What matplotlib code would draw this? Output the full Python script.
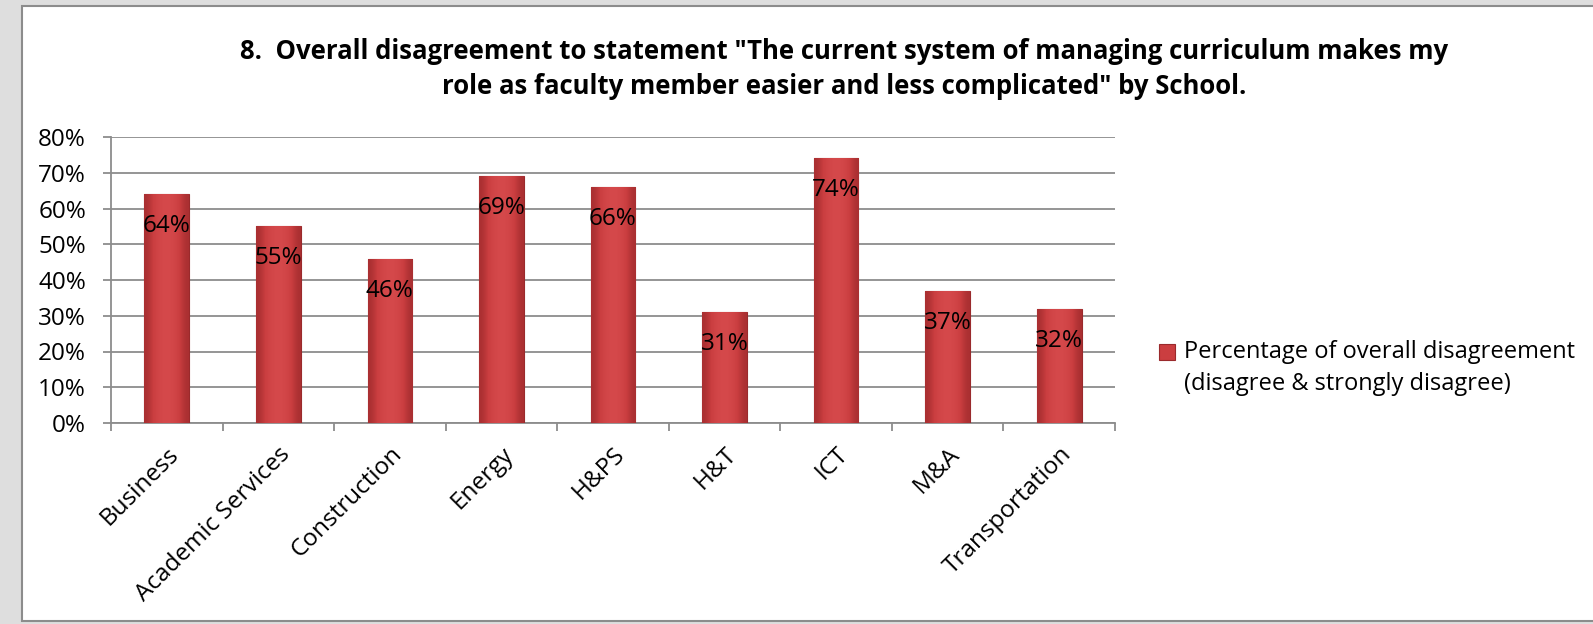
import numpy as np
import matplotlib.pyplot as plt
from matplotlib.patches import Rectangle
from matplotlib.colors import LinearSegmentedColormap

schools = ['Business', 'Academic Services', 'Construction', 'Energy', 'H&PS',
           'H&T', 'ICT', 'M&A', 'Transportation']
disagree = [64, 55, 46, 69, 66, 31, 74, 37, 32]
yticks = [0, 10, 20, 30, 40, 50, 60, 70, 80]
legend_label = 'Percentage of overall disagreement\n(disagree & strongly disagree)'
title = ('8.  Overall disagreement to statement "The current system of managing curriculum makes my\n'
         'role as faculty member easier and less complicated" by School.')

plt.rcParams['font.family'] = ['Open Sans', 'DejaVu Sans']

W, H = 1593, 624
fig = plt.figure(figsize=(W / 100, H / 100), dpi=100, facecolor='#dedede')

# white chart box
fig.patches.append(Rectangle((22 / W, 1 - 621 / H), 1.0, (621 - 6) / H,
                             transform=fig.transFigure, facecolor='white',
                             edgecolor='#8c8c8c', lw=1.5, zorder=-5))

ax = fig.add_axes([111 / W, 1 - 423 / H, (1115 - 111) / W, (423 - 137) / H])
ax.set_zorder(2)
ax.set_facecolor('none')

x = np.arange(len(schools))
bars = ax.bar(x, disagree, width=0.4, color='#cb3e40', edgecolor='#9a2a2c',
              linewidth=0.8, zorder=3)

# horizontal shading on each bar
grad = np.array([[0.0, 0.55, 0.85, 1.0, 0.85, 0.55, 0.0]])
cmap = LinearSegmentedColormap.from_list('bar', ['#a92f31', '#ca3e40', '#d64a4c'])
for b in bars:
    im = ax.imshow(grad, cmap=cmap, aspect='auto', zorder=3.5, interpolation='bicubic',
                   extent=[b.get_x(), b.get_x() + b.get_width(), 0, b.get_height()])
    im.set_clip_path(b)
    ax.annotate(f'{b.get_height():.0f}%', (b.get_x() + b.get_width() / 2, b.get_height()),
                xytext=(0, -32), textcoords='offset pixels', ha='center', va='center',
                fontsize=17.5, color='black', zorder=5)

ax.set_xlim(-0.5, len(schools) - 0.5)
ax.set_ylim(0, 80)
ax.set_yticks(yticks)
ax.set_yticklabels([f'{v}%' for v in yticks], fontsize=17.5)
ax.yaxis.grid(True, color='#8c8c8c', lw=1.3, zorder=1)
ax.tick_params(axis='y', length=6, width=1.3, color='#8c8c8c', pad=12)

ax.set_xticks(x)
ax.set_xticklabels(schools, rotation=45, ha='right', rotation_mode='anchor', fontsize=17.5)
ax.tick_params(axis='x', length=0, pad=14)
ax.set_xticks(np.arange(len(schools) + 1) - 0.5, minor=True)
ax.tick_params(axis='x', which='minor', length=6, width=1.3, color='#8c8c8c')

for s in ['top', 'right']:
    ax.spines[s].set_visible(False)
for s in ['left', 'bottom']:
    ax.spines[s].set_color('#8c8c8c')
    ax.spines[s].set_linewidth(1.3)

fig.text(844 / W, 1 - 69 / H, title, ha='center', va='center', fontsize=18.5,
         fontweight='bold', linespacing=1.38)

# legend
fig.patches.append(Rectangle((1159 / W, 1 - 360 / H), 16 / W, 16 / H, transform=fig.transFigure,
                             facecolor='#cb3e40', edgecolor='#9a2a2c', lw=0.8))
fig.text(1184 / W, 1 - 368 / H, legend_label, ha='left', va='center', fontsize=17,
         linespacing=1.5)

fig.savefig('out.png', dpi=100, facecolor=fig.get_facecolor())
